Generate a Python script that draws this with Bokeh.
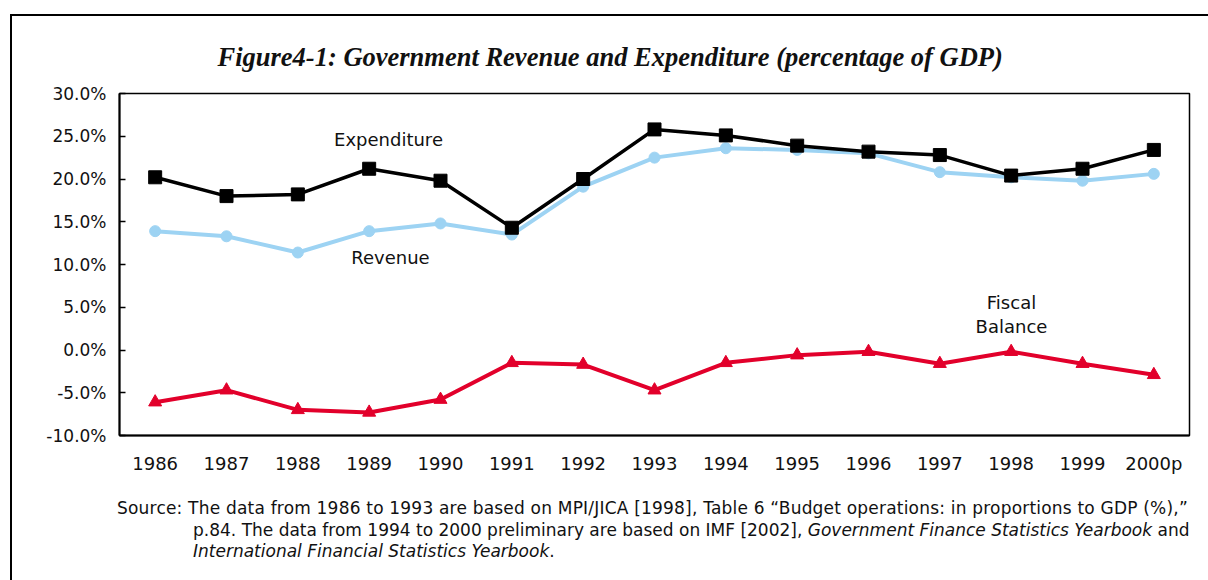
from bokeh.plotting import figure
from bokeh.models import FactorRange, Range1d, SingleIntervalTicker, PrintfTickFormatter, Label, Title, Div
from bokeh.layouts import column
from bokeh.embed import file_html
from bokeh.resources import INLINE

years = ["1986", "1987", "1988", "1989", "1990", "1991", "1992", "1993",
         "1994", "1995", "1996", "1997", "1998", "1999", "2000p"]
expenditure = [20.2, 18.0, 18.2, 21.2, 19.8, 14.3, 20.0, 25.8, 25.1, 23.9, 23.2, 22.8, 20.4, 21.2, 23.4]
revenue = [13.9, 13.3, 11.4, 13.9, 14.8, 13.5, 19.1, 22.5, 23.6, 23.4, 23.0, 20.8, 20.2, 19.8, 20.6]
balance = [-6.1, -4.7, -7.0, -7.3, -5.8, -1.5, -1.7, -4.7, -1.5, -0.6, -0.2, -1.6, -0.2, -1.6, -2.9]

title_text = "Figure4-1: Government Revenue and Expenditure (percentage of GDP)"
FONT = "DejaVu Sans"

p = figure(x_range=FactorRange(*years), y_range=Range1d(-10, 30),
           width=1196, height=474, output_backend="svg", toolbar_location=None,
           min_border_left=107, min_border_right=19, min_border_top=77, min_border_bottom=55)
p.background_fill_color = "white"
p.border_fill_color = "white"
p.outline_line_color = "black"
p.outline_line_width = 1.5
p.xgrid.grid_line_color = None
p.ygrid.grid_line_color = None

p.yaxis.ticker = SingleIntervalTicker(interval=5)
p.yaxis.formatter = PrintfTickFormatter(format="%.1f%%")
p.yaxis.major_tick_in = 6
p.yaxis.major_tick_out = 0
p.yaxis.minor_tick_line_color = None
p.yaxis.axis_line_width = 2
p.yaxis.major_tick_line_width = 1.5
p.yaxis.major_label_standoff = 9
p.xaxis.major_tick_line_color = None
p.xaxis.minor_tick_line_color = None
p.xaxis.axis_line_width = 2
p.xaxis.major_label_standoff = 11
for ax in (p.xaxis, p.yaxis):
    ax.major_label_text_font = FONT
    ax.major_label_text_color = "#111111"
    ax.axis_line_color = "black"
p.yaxis.major_label_text_font_size = "17px"
p.xaxis.major_label_text_font_size = "18px"

t = Title(text=title_text, align="left", offset=98, standoff=43,
          text_font="Liberation Serif", text_font_size="26.5px",
          text_font_style="bold italic", text_color="#111111")
p.add_layout(t, "above")

BLUE = "#9DD3F3"
RED = "#E2002B"

p.line(years, revenue, line_color=BLUE, line_width=4)
p.scatter(years, revenue, marker="circle", size=11, fill_color=BLUE, line_color=BLUE)
p.line(years, expenditure, line_color="black", line_width=3.5)
p.scatter(years, expenditure, marker="square", size=13, fill_color="black", line_color="black")
p.line(years, balance, line_color=RED, line_width=4)
p.scatter(years, balance, marker="triangle", size=13, fill_color=RED, line_color=RED)

def lab(text, x, y):
    # screen coords relative to frame (left=119, bottom=435 in page px)
    p.add_layout(Label(x=x - 119, y=435 - y, x_units="screen", y_units="screen", text=text,
                       text_font=FONT, text_font_size="18px",
                       text_align="center", text_baseline="middle", text_color="#111111"))

lab("Expenditure", 388, 139)
lab("Revenue", 390, 257)
lab("Fiscal", 1011, 302)
lab("Balance", 1011, 326)

source_html = (
    '<div style="font-family: \'DejaVu Sans\'; font-size: 17px; line-height: 21.5px; color: #111111; '
    'padding-top: 3px; padding-left: 176px; text-indent: -76px; white-space: nowrap;">'
    '<span style="letter-spacing: 0.2px;">Source: The data from 1986 to 1993 are based on MPI/JICA [1998], '
    'Table 6 \u201cBudget operations: in proportions to GDP (%),\u201d</span><br>'
    'p.84. The data from 1994 to 2000 preliminary are based on IMF [2002], '
    '<i>Government Finance Statistics Yearbook</i> and<br>'
    '<i>International Financial Statistics Yearbook</i>.'
    '</div>'
)
src = Div(text=source_html, width=1196, height=80)

layout = column(p, src, spacing=0,
                styles={"margin-left": "10px", "margin-top": "14px",
                        "border-left": "2px solid #000", "border-top": "2px solid #000"})

open("out.html", "w").write(file_html(layout, INLINE))
